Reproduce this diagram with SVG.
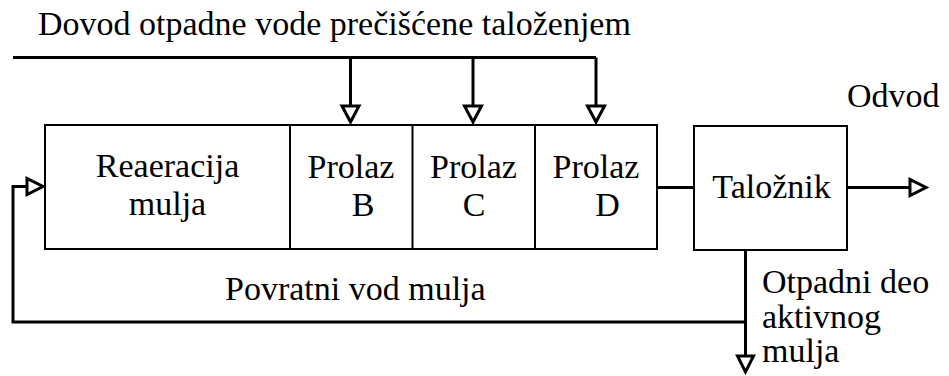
<svg xmlns="http://www.w3.org/2000/svg" width="949" height="376" viewBox="0 0 949 376">
  <style>
    text { font-family: 'Liberation Serif', 'Times New Roman', serif; font-size: 34px; fill: #000; }
    .box { fill: none; stroke: #000; stroke-width: 2; }
    .wire { fill: none; stroke: #000; stroke-width: 3; }
    .head { fill: #fff; stroke: #000; stroke-width: 3; stroke-linejoin: miter; }
  </style>

  <!-- connectors -->
  <g id="connectors">
    <!-- inflow header with three drops into passes B, C, D -->
    <polyline class="wire" points="13,57.5 596,57.5"/>
    <line class="wire" x1="350.5" y1="57.5" x2="350.5" y2="106"/>
    <line class="wire" x1="473" y1="57.5" x2="473" y2="106"/>
    <line class="wire" x1="596" y1="57.5" x2="596" y2="106"/>
    <polygon class="head" points="342,106 359,106 350.5,122"/>
    <polygon class="head" points="464.5,106 481.5,106 473,122"/>
    <polygon class="head" points="587.5,106 604.5,106 596,122"/>

    <!-- aeration tank to clarifier -->
    <line class="wire" x1="657" y1="187.5" x2="694" y2="187.5"/>

    <!-- effluent -->
    <line class="wire" x1="847" y1="187.5" x2="910" y2="187.5"/>
    <polygon class="head" points="910,179.5 910,195.5 926,187.5"/>

    <!-- return sludge loop and waste sludge outlet -->
    <polyline class="wire" points="745.5,250 745.5,355"/>
    <polyline class="wire" points="745.5,322 13,322 13,186.5 27,186.5"/>
    <polygon class="head" points="27,178.5 27,194.5 43,186.5"/>
    <polygon class="head" points="737.5,356 753.5,356 745.5,372"/>
  </g>

  <g id="aeration-tank">
    <rect class="box" x="45" y="125" width="612" height="124"/>
  </g>
  <g id="reaeration">
    <text x="167.5" y="177" text-anchor="middle">Reaeracija</text>
    <text x="167.5" y="215" text-anchor="middle">mulja</text>
  </g>
  <g id="pass-b">
    <line class="box" x1="290" y1="125" x2="290" y2="249"/>
    <text x="351" y="178" text-anchor="middle">Prolaz</text>
    <text x="363" y="216" text-anchor="middle">B</text>
  </g>
  <g id="pass-c">
    <line class="box" x1="412.5" y1="125" x2="412.5" y2="249"/>
    <text x="473.5" y="178" text-anchor="middle">Prolaz</text>
    <text x="474" y="216" text-anchor="middle">C</text>
  </g>
  <g id="pass-d">
    <line class="box" x1="535" y1="125" x2="535" y2="249"/>
    <text x="596" y="178" text-anchor="middle">Prolaz</text>
    <text x="607.5" y="216" text-anchor="middle">D</text>
  </g>
  <g id="clarifier">
    <rect class="box" x="694" y="126" width="153" height="124"/>
    <text x="771.5" y="198" text-anchor="middle">Taložnik</text>
  </g>

  <g id="labels">
    <text x="38" y="35">Dovod otpadne vode prečišćene taloženjem</text>
    <text x="847" y="107">Odvod</text>
    <text x="225" y="300">Povratni vod mulja</text>
    <text x="762" y="293">Otpadni deo</text>
    <text x="762" y="328">aktivnog</text>
    <text x="762" y="362">mulja</text>
  </g>
</svg>
